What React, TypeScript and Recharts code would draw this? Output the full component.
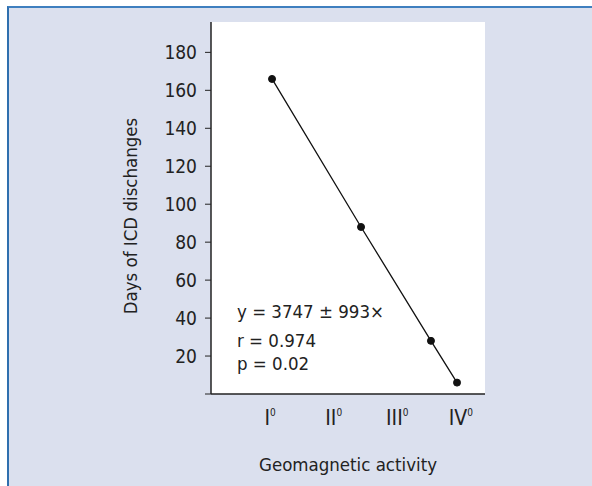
import React from "react";
import { LineChart, Line, XAxis, YAxis, Customized } from "recharts";

const activity = [1.03, 2.43, 3.53, 3.94];
const days = [166, 88, 28, 6];
const activityTicks = [1, 2, 3, 4];
const activityLabels = ["I", "II", "III", "IV"];
const dayTicks = [0, 20, 40, 60, 80, 100, 120, 140, 160, 180];
const statLines = ["y = 3747 ± 993×", "r = 0.974", "p = 0.02"];

const data = activity.map((a, i) => ({ x: a, y: days[i] }));

const FONT = '"Liberation Sans Narrow", "Arial Narrow", "DejaVu Sans Condensed", sans-serif';

const RomanTick = ({ x, y, payload }: any) => {
  const idx = activityTicks.indexOf(payload.value);
  return (
    <text x={x} y={y + 23} textAnchor="middle" fill="#222" fontFamily={FONT} fontSize={21}>
      <tspan>{activityLabels[idx]}</tspan>
      <tspan dy={-9} fontSize={10}>0</tspan>
    </text>
  );
};

const YTitle = ({ viewBox }: any) => {
  const cx = 137;
  const cy = viewBox.y + viewBox.height / 2 + 8;
  return (
    <text
      x={cx}
      y={cy}
      transform={`rotate(-90 ${cx} ${cy})`}
      textAnchor="middle"
      fontFamily={FONT}
      fontSize={18.5}
      fill="#222"
    >
      Days of ICD dischanges
    </text>
  );
};

const Stats = () => (
  <g fontFamily={FONT} fontSize={18.5} fill="#222">
    {statLines.map((s, i) => (
      <text key={i} x={237} y={[318, 347, 370][i]}>
        {s}
      </text>
    ))}
  </g>
);

const App: React.FC = () => {
  return (
    <div style={{ position: "absolute", left: 0, top: 0, width: 592, height: 486, background: "#fff" }}>
      <div
        style={{
          position: "absolute",
          left: 7,
          top: 6,
          right: 0,
          bottom: 0,
          background: "#dbe0ee",
          borderTop: "2px solid #3f7fbf",
          borderLeft: "2px solid #2f6fae",
        }}
      />
      <div style={{ position: "absolute", left: 211, top: 22, width: 274, height: 372, background: "#fff" }} />
      <LineChart
        width={592}
        height={486}
        data={data}
        margin={{ top: 22, right: 107, left: 0, bottom: 0 }}
        style={{ position: "absolute", left: 0, top: 0 }}
      >
        <XAxis
          type="number"
          dataKey="x"
          domain={[0.07, 4.38]}
          ticks={activityTicks}
          tickLine={false}
          axisLine={{ stroke: "#222", strokeWidth: 1.5 }}
          tick={<RomanTick />}
          height={92}
          label={{
            value: "Geomagnetic activity",
            position: "insideBottom",
            offset: 15,
            style: { fontFamily: FONT, fontSize: 18.5, fill: "#222" },
          }}
        />
        <YAxis
          type="number"
          dataKey="y"
          domain={[0, 196]}
          ticks={dayTicks}
          width={211}
          tickSize={6}
          tickMargin={8}
          tickFormatter={(v: number) => (v === 0 ? "" : String(v))}
          tick={{ fontFamily: FONT, fontSize: 19, fill: "#222" }}
          tickLine={{ stroke: "#222" }}
          axisLine={{ stroke: "#222", strokeWidth: 1.5 }}
          label={{ content: <YTitle /> }}
        />
        <Line
          dataKey="y"
          stroke="#111"
          strokeWidth={1.3}
          dot={{ r: 3.5, fill: "#111", stroke: "#111", strokeWidth: 1 }}
          isAnimationActive={false}
        />
        <Customized component={Stats} />
      </LineChart>
    </div>
  );
};

export default App;
